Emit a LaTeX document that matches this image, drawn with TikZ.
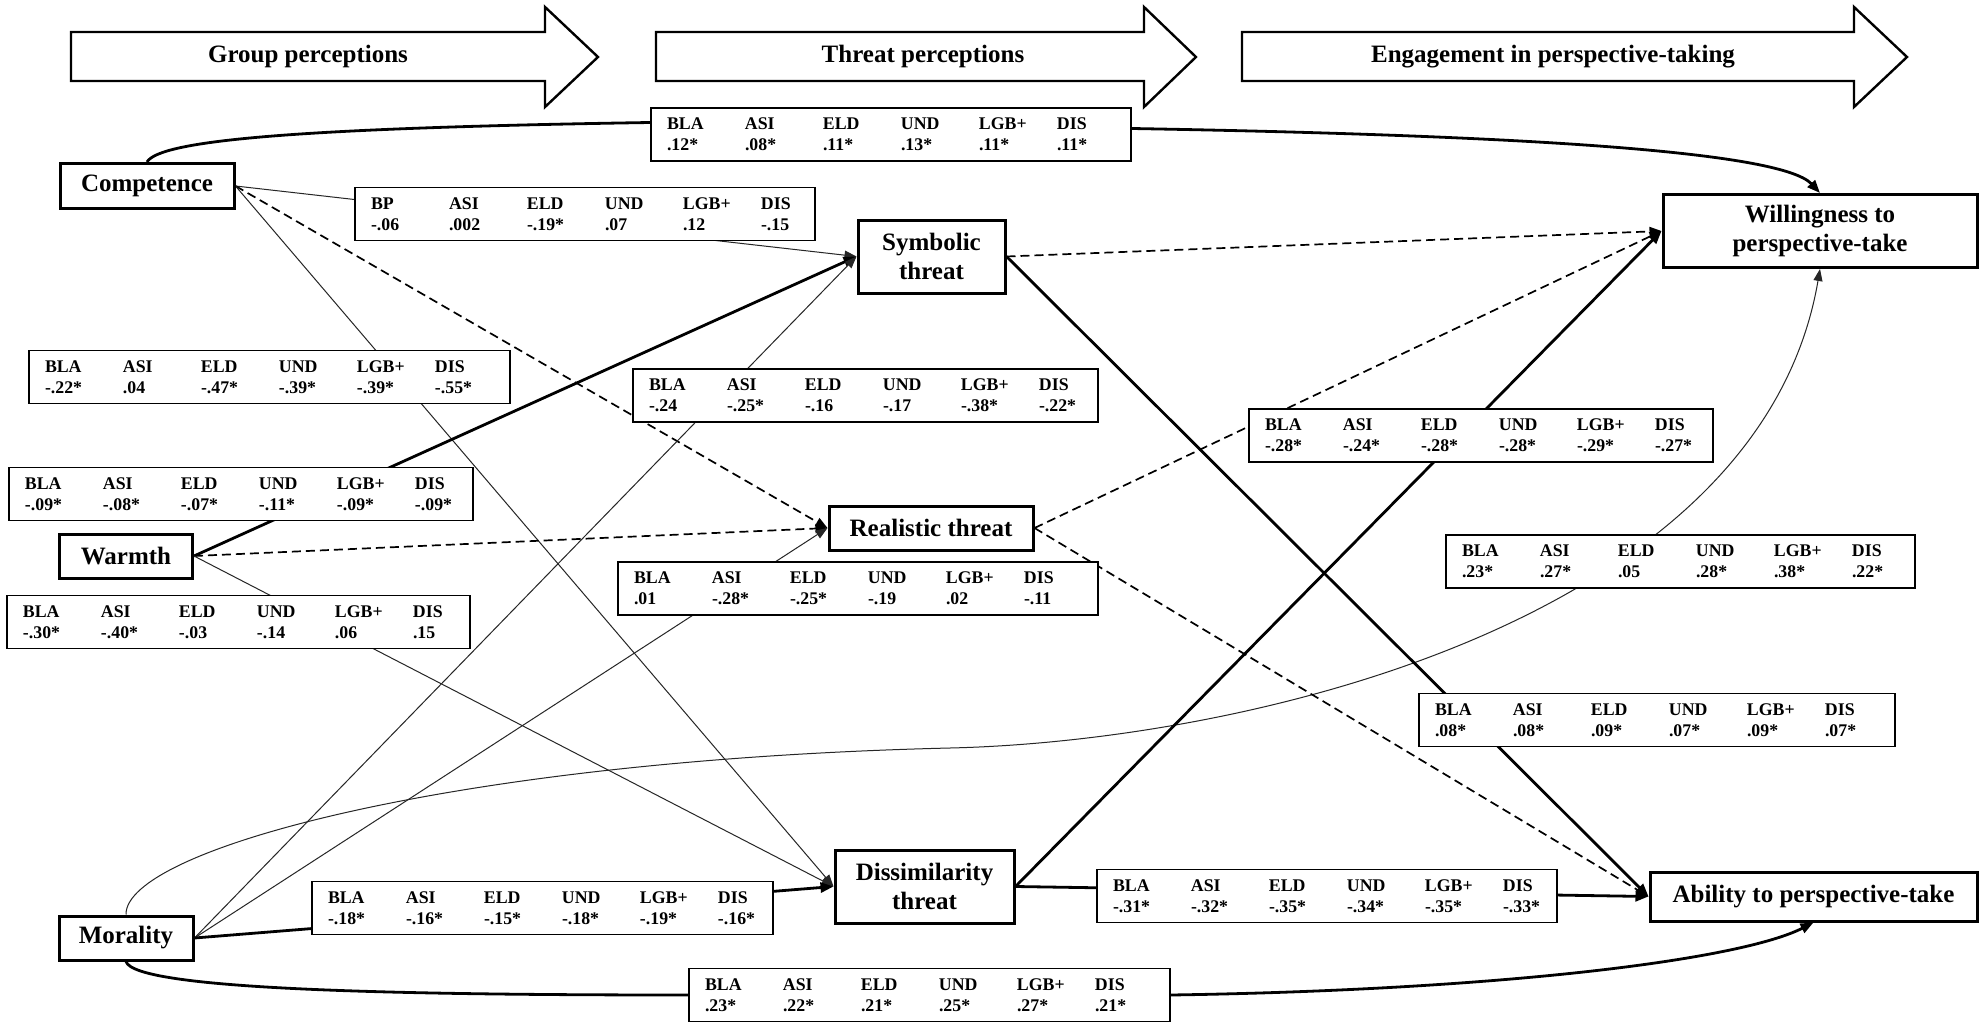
\documentclass[tikz,border=0pt]{standalone}
\usepackage{fontspec}
\setmainfont{Liberation Serif}
\usetikzlibrary{arrows.meta,backgrounds}
\newcommand\nodef{\fontsize{12.5pt}{14.5pt}\selectfont\bfseries}
\newcommand\tabf{\fontsize{8.9pt}{10.5pt}\selectfont\bfseries}
\newlength\colw \setlength\colw{39pt}
\newcommand\cc[1]{\makebox[\colw][l]{#1}}
\newcommand\crow[6]{\hspace*{8pt}\cc{#1}\cc{#2}\cc{#3}\cc{#4}\cc{#5}#6}
\newcommand\hdr{\crow{BLA}{ASI}{ELD}{UND}{LGB+}{DIS}}
\newcommand\ctab[5]{\node[tab, text width=#3] (#1) at #2 {#4\\#5};}
\begin{document}
\begin{tikzpicture}[x=0.5pt,y=-0.5pt,
  box/.style={draw, line width=1.5pt, fill=white, font=\nodef, align=center, inner sep=2pt},
  tab/.style={draw, line width=0.9pt, fill=white, inner sep=0pt, align=left, font=\tabf, minimum height=26.5pt},
  bigarrow/.style={draw, line width=1.2pt, fill=white, line join=miter},
  headlbl/.style={font=\nodef, inner sep=0pt},
  thk/.style={line width=1.4pt, -{Triangle[length=6.5pt,width=5pt]}},
  thn/.style={line width=0.5pt, draw=black!85, -{Triangle[length=6pt,width=4.5pt]}},
  dsh/.style={line width=0.85pt, dash pattern=on 4.5pt off 2.5pt, -{Triangle[length=6pt,width=4.5pt]}}]
\useasboundingbox (0,0) rectangle (1981,1022);

% stage arrows
\draw[bigarrow] (71,32) -- (545,32) -- (545,7) -- (598,57) -- (545,107) -- (545,81) -- (71,81) -- cycle;
\node[headlbl] (h1) at (308,56.5) {Group perceptions};
\draw[bigarrow] (656,32) -- (1144,32) -- (1144,7) -- (1196,57) -- (1144,107) -- (1144,81) -- (656,81) -- cycle;
\node[headlbl] (h2) at (923,56.5) {Threat perceptions};
\draw[bigarrow] (1242,32) -- (1854,32) -- (1854,7) -- (1907,57) -- (1854,107) -- (1854,81) -- (1242,81) -- cycle;
\node[headlbl] (h3) at (1553,56.5) {Engagement in perspective-taking};

% variables
\node[box, minimum width=87pt, minimum height=22.5pt] (com) at (147,186) {Competence};
\node[box, minimum width=66.5pt, minimum height=22pt] (war) at (126,556) {Warmth};
\node[box, minimum width=67pt, minimum height=22pt] (mor) at (126,938) {Morality};
\node[box, minimum width=73.5pt, minimum height=36.5pt] (sym) at (931.5,256.5) {Symbolic\\threat};
\node[box, minimum width=102pt, minimum height=22pt] (rea) at (931,528) {Realistic threat};
\node[box, minimum width=89.5pt, minimum height=36.5pt] (dis) at (924.5,886.5) {Dissimilarity\\threat};
\node[box, minimum width=157pt, minimum height=36.5pt] (will) at (1820,231) {Willingness to\\perspective-take};
\node[box, minimum width=163.5pt, minimum height=24.5pt] (abi) at (1813.5,896.5) {Ability to perspective-take};

% coefficient tables
\ctab{t1}{(891,134.5)}{240pt}{\hdr}{\crow{.12*}{.08*}{.11*}{.13*}{.11*}{.11*}}
\ctab{t2}{(585,214)}{230pt}{\crow{BP}{ASI}{ELD}{UND}{LGB+}{DIS}}{\crow{-.06}{.002}{-.19*}{.07}{.12}{-.15}}
\ctab{t3}{(269.5,377)}{240.5pt}{\hdr}{\crow{-.22*}{.04}{-.47*}{-.39*}{-.39*}{-.55*}}
\ctab{t4}{(241,494)}{232pt}{\hdr}{\crow{-.09*}{-.08*}{-.07*}{-.11*}{-.09*}{-.09*}}
\ctab{t5}{(238.5,622)}{231.5pt}{\hdr}{\crow{-.30*}{-.40*}{-.03}{-.14}{.06}{.15}}
\ctab{t6}{(865.5,395.5)}{232.5pt}{\hdr}{\crow{-.24}{-.25*}{-.16}{-.17}{-.38*}{-.22*}}
\ctab{t7}{(858,588.5)}{240pt}{\hdr}{\crow{.01}{-.28*}{-.25*}{-.19}{.02}{-.11}}
\ctab{t8}{(1481,435.5)}{232pt}{\hdr}{\crow{-.28*}{-.24*}{-.28*}{-.28*}{-.29*}{-.27*}}
\ctab{t9}{(1680.5,561.5)}{234.5pt}{\hdr}{\crow{.23*}{.27*}{.05}{.28*}{.38*}{.22*}}
\ctab{t10}{(1657,720)}{238pt}{\hdr}{\crow{.08*}{.08*}{.09*}{.07*}{.09*}{.07*}}
\ctab{t11}{(542.5,908)}{230.5pt}{\hdr}{\crow{-.18*}{-.16*}{-.15*}{-.18*}{-.19*}{-.16*}}
\ctab{t12}{(1327,896)}{230pt}{\hdr}{\crow{-.31*}{-.32*}{-.35*}{-.34*}{-.35*}{-.33*}}
\ctab{t13}{(929.5,995)}{240.5pt}{\hdr}{\crow{.23*}{.22*}{.21*}{.25*}{.27*}{.21*}}

\coordinate (mw) at (950,748);

% connectors
\begin{scope}[on background layer]
\fill[white] (0,0) rectangle (1981,1022);
\draw[thk] (com.north) .. controls (160,140) and (300,128) .. ([yshift=6pt]t1.west) -- ([yshift=3pt]t1.east) .. controls (1500,135) and (1780,150) .. (will.north);
\draw[thn] (com.east) -- (sym.west);
\draw[dsh] (com.east) -- (rea.west);
\draw[thn] (com.east) -- (dis.west);
\draw[thk] (war.east) -- (sym.west);
\draw[dsh] (war.east) -- (rea.west);
\draw[thn] (war.east) -- (dis.west);
\draw[thn] (mor.east) -- (sym.west);
\draw[thn] (mor.east) -- (rea.west);
\draw[thk] (mor.east) -- (dis.west);
\draw[thn] (mor.north) .. controls (125,850) and (450,760) .. (mw) .. controls (1250,741) and (1760,620) .. (will.south);
\draw[thk] (mor.south) .. controls (135,990) and (400,995) .. (t13.west) -- (t13.east) .. controls (1500,990) and (1740,960) .. (abi.south);
\draw[dsh] (sym.east) -- (will.west);
\draw[thk] (sym.east) -- (abi.west);
\draw[dsh] (rea.east) -- (will.west);
\draw[dsh] (rea.east) -- (abi.west);
\draw[thk] (dis.east) -- (will.west);
\draw[thk] (dis.east) -- (abi.west);
\end{scope}
\end{tikzpicture}
\end{document}
